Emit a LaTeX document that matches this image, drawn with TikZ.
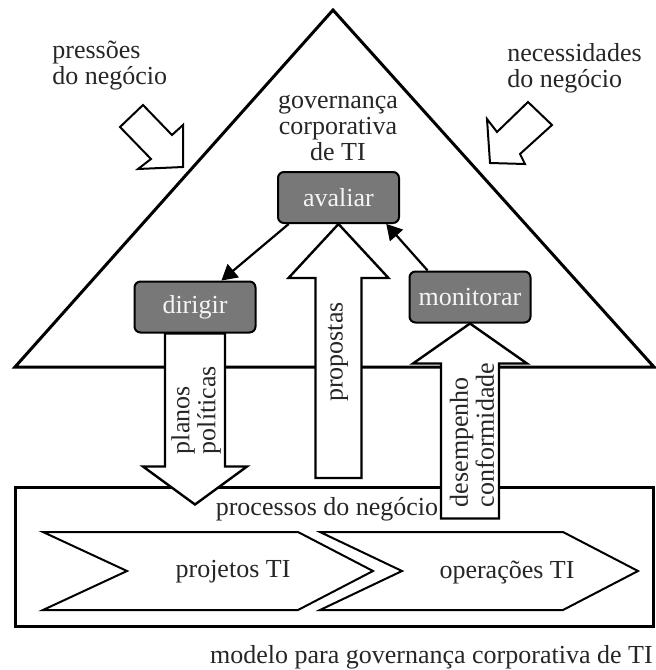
\documentclass[tikz,border=0pt]{standalone}
\usepackage{fontspec}
\setmainfont{Liberation Serif}
\usetikzlibrary{shapes,arrows,calc}

\begin{document}
\begin{tikzpicture}[%
    x=0.5pt, y=-0.5pt,          % work in pixel units, y going down
    >=triangle 60,              % filled arrow heads
    font=\fontsize{13}{13}\selectfont,
    ]
% -------------------------------------------------
% A few styles
\tikzset{
  box/.style={draw, rectangle, rounded corners=3pt, fill=black!53,
    text=black!4, line width=1pt, minimum width=60.5pt,
    minimum height=25.5pt, inner sep=0pt},
  fat/.style={draw, fill=white, line width=1.2pt, line join=miter},
  chev/.style={draw, fill=white, line width=1pt, line join=miter},
  frame/.style={draw, line width=1.5pt, line join=miter},
  lbl/.style={align=center, inner sep=0pt, text=black!85},
  norm/.style={->, line width=1.1pt},
}
\useasboundingbox (0,0) rectangle (656,670);
% -------------------------------------------------
% Triangle and business frame
\draw[frame] (15,487) rectangle (653,626);
\draw[frame, fill=white] (15,367) -- (333,10) -- (654,367) -- cycle;

% chevrons
\draw[chev] (43,532) -- (298,532) -- (373,571) -- (298,610) -- (43,610)
  -- (127,571) -- cycle;
\draw[chev] (320,532) -- (563,532) -- (638,571) -- (563,610) -- (320,610)
  -- (402,571) -- cycle;

% outside pressures
\draw[chev] (143,105) -- (172,135) -- (183,125) -- (183,167) -- (138,169)
  -- (151,159) -- (120,127) -- cycle;
\draw[chev] (528,102) -- (497,132) -- (487,119) -- (490,163) -- (525,164)
  -- (520,154) -- (552,125) -- cycle;

% -------------------------------------------------
% The three tasks
\node[box] (avaliar) at (338.5,197.5) {avaliar};
\node[box] (dirigir) at (195,307) {dirigir};
\node[box] (monitorar) at (470,297) {monitorar};

% wide arrows between tasks and business
\draw[fat] ($(dirigir.south)+(-30,0)$) -- ++(0,133) -- ++(-22,0)
  -- ++(52,38) -- ++(52,-38) -- ++(-22,0) -- ++(0,-133) -- cycle;
\draw[fat] (avaliar.south) -- ++(50,54) -- ++(-27,0) -- ++(0,200)
  -- ++(-46,0) -- ++(0,-200) -- ++(-27,0) -- cycle;
\draw[fat] (monitorar.south) -- ++(57,40) -- ++(-28,0) -- ++(0,155)
  -- ++(-58,0) -- ++(0,-155) -- ++(-28,0) -- cycle;

\draw[norm] (avaliar.208) -- (dirigir.45);
\draw[norm] (monitorar.148) -- (avaliar.331);

% -------------------------------------------------
% Labels
\node[lbl, rotate=90, align=left] (planos) at (196,410) {planos\\políticas};
\node[lbl, rotate=90] (propostas) at (338,352) {propostas};
\node[lbl, rotate=90, align=left] (desemp) at (472,435)
  {desempenho\\conformidade};

\node[lbl, anchor=west, align=left] (pressoes) at (52,66)
  {pressões\\do negócio};
\node[lbl, anchor=west, align=left] (necess) at (507,68)
  {necessidades\\do negócio};
\node[lbl] (gov) at (338,128) {governança\\corporativa\\de TI};
\node[lbl] (proc) at (327,509) {processos do negócio};
\node[lbl] (proj) at (233,572) {projetos TI};
\node[lbl] (oper) at (507,572) {operações TI};
\node[lbl, anchor=east] (caption) at (653,657)
  {modelo para governança corporativa de TI};
% -------------------------------------------------
\end{tikzpicture}
\end{document}
